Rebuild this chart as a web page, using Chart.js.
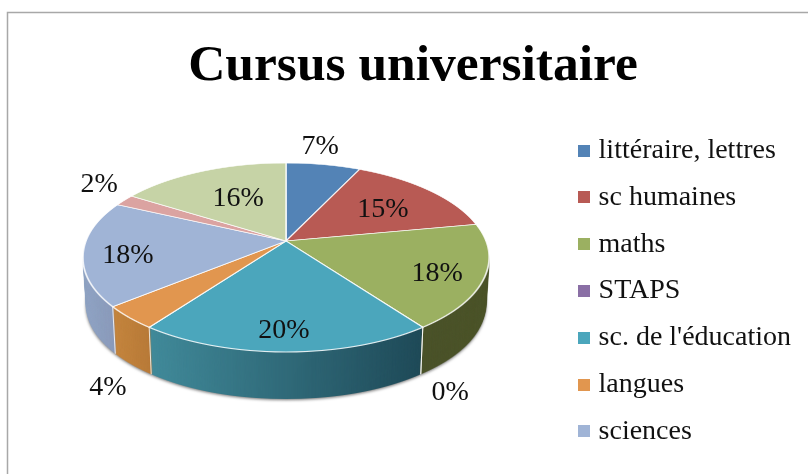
<!DOCTYPE html>
<html>
<head>
<meta charset="utf-8">
<title>Cursus universitaire</title>
<script src="https://cdn.jsdelivr.net/npm/chart.js@4"></script>
<style>
  body { margin: 0; background: #fff; }
  canvas { display: block; }
</style>
</head>
<body>
<canvas id="myChart" width="808" height="474"></canvas>
<script>
// the last two slices have no legend entry in the picture, so no name either
const categories = ["littéraire, lettres", "sc humaines", "maths", "STAPS", "sc. de l'éducation", "langues", "sciences", "", ""]
const values = [7, 15, 18, 0, 20, 4, 18, 2, 16]
const barColors = ["#5383b6", "#b85a54", "#9bb061", "#8a6fa5", "#4ba6bc", "#e1964f", "#a0b4d6", "#dba3a1", "#c6d3a6"]
const sideLeft = ["#2c4a68", "#693330", "#4a5229", "#4a3a5e", "#418a9a", "#c4853e", "#90a4c4", "#7e5e5c", "#72795f"]
const sideRight = ["#2c4a68", "#693330", "#4c5429", "#4a3a5e", "#1f4a58", "#b87a38", "#8a9aba", "#7e5e5c", "#72795f"]
const labelNudgeX = [7, -6, 15, 73, -2, -73, -17, -71, 13]
const labelNudgeY = [-38, 5, 8, 94, 17, 95, 6, -27, 8]

// perspective of the tilted pie, apex on screen at cx,cy
const cx = 286, cy = 241, k = 0.1746, A = 199.9, B = 91.6, depth = 47
const font = "'Liberation Serif'"

function project(u, v){
  const w = 1 / (1 - k * v)
  return { x: cx + A * u * w, y: cy + B * v * w }
}

// one screen row at a time, each row is a plain scale of the library's arcs
function drawRows(ctx, arcs, fromY, toY, optionsFor){
  const R = arcs[0].outerRadius
  for(let Y = fromY; Y < toY; Y++){
    const yc = Y + 0.5 - cy
    const v = yc / (B + k * yc)
    const w = 1 / (1 - k * v)
    ctx.save()
    ctx.beginPath()
    ctx.rect(0, Y, 808, 1)
    ctx.clip()
    ctx.translate(cx, Y + 0.5)
    ctx.scale(A * w / R, B * w * w / R)
    ctx.translate(-arcs[0].x, -arcs[0].y - v * R)
    arcs.forEach((arc, i) => {
      const saved = arc.options
      arc.options = optionsFor(arc, i, saved, w, R)
      arc.draw(ctx)
      arc.options = saved
    })
    ctx.restore()
  }
}

function sideRange(arc){
  let min = 9999, max = -9999
  for(let s = 0; s <= 24; s++){
    const a = arc.startAngle + (arc.endAngle - arc.startAngle) * s / 24
    if(Math.sin(a) < -0.1) continue
    const x = project(Math.cos(a), Math.sin(a)).x
    min = Math.min(min, x)
    max = Math.max(max, x)
  }
  return [min, max]
}

const pie3d = {
  id: "pie3d",
  afterLayout(chart){
    // legend sits lower than the layout puts it
    chart.legend.top += 49
    chart.legend.bottom += 49
  },
  beforeDraw(chart){
    const ctx = chart.ctx
    ctx.save()
    ctx.strokeStyle = "#a8a8a8"
    ctx.lineWidth = 1.5
    ctx.strokeRect(7.5, 12.5, 1000, 1000)
    ctx.restore()
  },
  beforeDatasetsDraw(chart){
    const ctx = chart.ctx
    const arcs = chart.getDatasetMeta(0).data

    // side wall: lower half painted once, then stacked downwards
    const sheet = document.createElement("canvas")
    sheet.width = 808
    sheet.height = 474
    const sheetCtx = sheet.getContext("2d")
    const ranges = arcs.map(sideRange)
    drawRows(sheetCtx, arcs, cy, cy + 116, (arc, i, o, w, R) => {
      const toLocal = x => arc.x + (x - cx) * R / (A * w)
      const g = sheetCtx.createLinearGradient(toLocal(ranges[i][0]), 0, toLocal(ranges[i][1]) + 0.01, 0)
      g.addColorStop(0, sideLeft[i])
      g.addColorStop(1, sideRight[i])
      return Object.assign({}, o, { backgroundColor: g, borderWidth: 0 })
    })
    for(let d = depth; d >= 1; d--){
      const s = 1 - 0.015 * d / depth
      ctx.save()
      if(d == depth){
        ctx.shadowColor = "rgba(0,0,0,0.55)"
        ctx.shadowBlur = 3
        ctx.shadowOffsetY = 1
      }
      ctx.drawImage(sheet, cx - cx * s, d, 808 * s, 474)
      ctx.restore()
    }

    // white edges between the slices on the wall
    ctx.save()
    ctx.strokeStyle = "rgba(255,255,255,0.8)"
    ctx.lineWidth = 1
    arcs.forEach(arc => {
      const a = arc.startAngle
      if(Math.sin(a) > 0.1){
        const p = project(Math.cos(a), Math.sin(a))
        ctx.beginPath()
        ctx.moveTo(p.x, p.y)
        ctx.lineTo(cx + (p.x - cx) * 0.985, p.y + depth)
        ctx.stroke()
      }
    })
    ctx.restore()

    // top face
    drawRows(ctx, arcs, cy - 82, cy + 116, (arc, i, o) => o)

    // value labels
    ctx.save()
    ctx.font = "28px " + font
    ctx.fillStyle = "#111"
    ctx.textAlign = "center"
    ctx.textBaseline = "middle"
    arcs.forEach((arc, i) => {
      const a = (arc.startAngle + arc.endAngle) / 2
      const p = project(0.7 * Math.cos(a), 0.7 * Math.sin(a))
      ctx.fillText(values[i] + "%", p.x + labelNudgeX[i], p.y + labelNudgeY[i])
    })
    ctx.restore()
    return false
  }
}

function swatch(color){
  const c = document.createElement("canvas")
  c.width = 12
  c.height = 12
  const x = c.getContext("2d")
  x.fillStyle = color
  x.fillRect(0, 0, 12, 12)
  return c
}

new Chart("myChart", {
  type: "pie",
  plugins: [pie3d],
  data: {
    labels: categories,
    datasets: [{
      data: values,
      backgroundColor: barColors,
      borderColor: "rgba(255,255,255,0.85)",
      borderWidth: 1.5
    }]
  },
  options: {
    responsive: false,
    animation: false,
    // legend column needs more room than the window leaves it, hence the negative bottom
    layout: { padding: { left: 25, right: 7, bottom: -10 } },
    plugins: {
      tooltip: { enabled: false },
      title: {
        display: true,
        text: "Cursus universitaire",
        color: "#000",
        font: { family: font, size: 51.5, weight: "bold" },
        padding: { top: 36, bottom: 0 }
      },
      legend: {
        position: "right",
        labels: {
          font: { family: font, size: 28 },
          color: "#111",
          padding: 18.8,
          usePointStyle: true,
          pointStyleWidth: 1,
          generateLabels(chart){
            const items = Chart.controllers.doughnut.overrides.plugins.legend.labels.generateLabels(chart)
            return items.filter(item => item.text != "").map(item => {
              item.pointStyle = swatch(item.fillStyle)
              return item
            })
          }
        }
      }
    }
  }
})
</script>
</body>
</html>
